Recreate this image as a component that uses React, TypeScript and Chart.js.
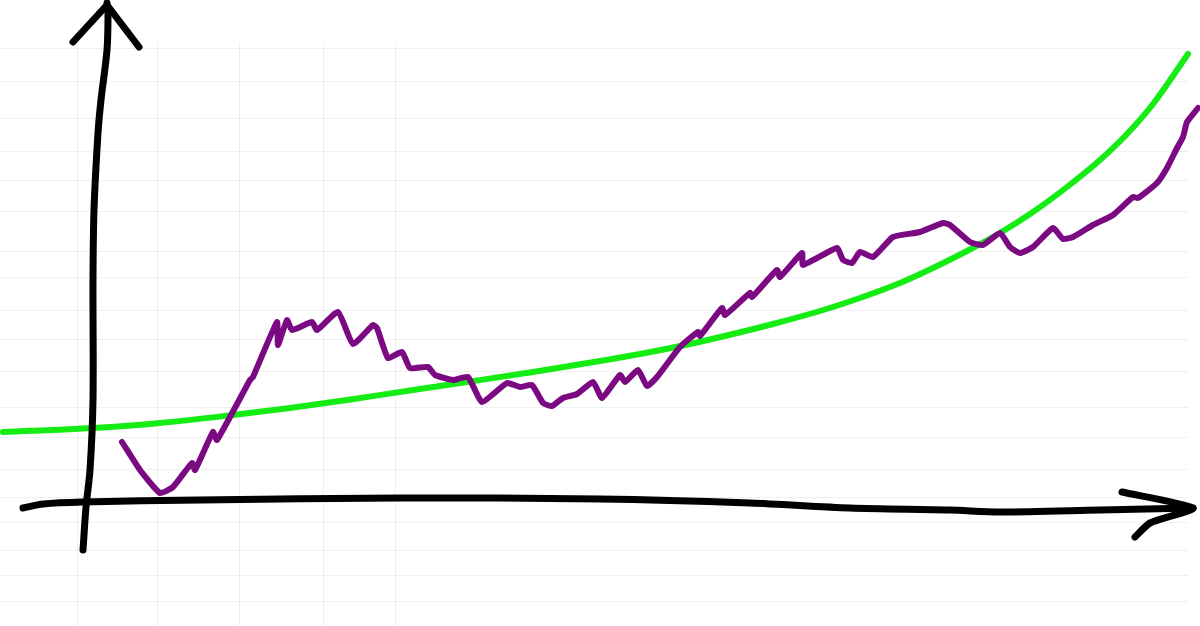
import React, { useEffect, useRef } from "react";
import { Chart, registerables } from "chart.js";

Chart.register(...registerables);

// Faint grid-paper lines (positions along each axis)
const gridX = [77, 157, 239, 323, 395];
const gridY = [577, 544, 508, 475, 446, 414, 375, 349, 316, 287, 255, 218, 189, 157, 129, 104, 76, 51, 25];

// Hand-drawn vertical axis (with arrow head)
const yAxisX = [83, 86, 90, 93, 93, 94, 98, 101, 107, 108, 107];
const yAxisV = [76, 119, 156, 226, 346, 416, 493, 526, 576, 613, 623];
const yArrowX = [73, 107, 139];
const yArrowV = [584, 621, 579];

// Hand-drawn horizontal axis (with arrow head)
const xAxisX = [23, 43, 83, 200, 400, 600, 750, 850, 950, 1000, 1100, 1193];
const xAxisV = [118, 122, 124, 126, 128, 127, 123, 118, 116, 114, 116, 118];
const xArrowX = [1122, 1193, 1150, 1135];
const xArrowV = [134, 118, 103, 89];

// Green smooth (exponential-like) trend
const greenX = [3, 93, 160, 233, 290, 347, 413, 467, 533, 600, 640, 690, 733, 773, 820, 857, 900, 933, 967, 1000, 1033, 1067, 1100, 1127, 1153, 1188];
const greenV = [194, 198, 203, 211, 218, 226, 236, 244, 254, 265, 272, 282, 292, 302, 315, 327, 343, 358, 375, 393, 414, 439, 466, 492, 522, 572];

// Purple noisy series
const purpleX = [122, 140, 160, 173, 192, 195, 213, 217, 250, 253, 277, 278, 287, 292, 312, 317, 338, 353, 373, 377, 388, 402, 410, 428, 435, 453, 468, 482, 507, 520, 532, 543, 552, 563, 577, 593, 602, 620, 625, 638, 647, 657, 680, 698, 700, 722, 725, 750, 752, 777, 780, 802, 803, 837, 843, 852, 860, 873, 893, 920, 943, 950, 970, 983, 1000, 1010, 1020, 1033, 1053, 1063, 1073, 1093, 1113, 1133, 1138, 1157, 1167, 1177, 1183, 1187, 1198];
const purpleV = [184, 156, 133, 139, 163, 156, 194, 186, 246, 249, 304, 281, 306, 296, 304, 296, 314, 282, 301, 298, 268, 274, 258, 259, 251, 246, 249, 224, 243, 239, 241, 223, 220, 228, 232, 244, 228, 251, 244, 256, 240, 249, 279, 294, 290, 318, 311, 333, 329, 356, 349, 373, 361, 378, 366, 363, 374, 369, 389, 394, 403, 401, 384, 381, 393, 379, 373, 379, 398, 387, 389, 401, 411, 429, 428, 443, 458, 478, 489, 504, 518];

const pts = (xs: number[], vs: number[]) => xs.map((x, i) => ({ x, y: vs[i] }));

export default function App() {
  const ref = useRef<HTMLCanvasElement | null>(null);

  useEffect(() => {
    if (!ref.current) return;
    const line = (data: { x: number; y: number }[], color: string, width: number, tension: number, order: number, extra: any = {}) => ({
      data,
      borderColor: color,
      backgroundColor: color,
      borderWidth: width,
      tension,
      order,
      pointRadius: 0,
      borderCapStyle: "round" as const,
      borderJoinStyle: "round" as const,
      clip: false as const,
      fill: false,
      ...extra,
    });
    const chart = new Chart(ref.current, {
      type: "line",
      data: {
        datasets: [
          line(pts(yAxisX, yAxisV), "#000000", 7, 0.3, 0),
          line(pts(yArrowX, yArrowV), "#000000", 7, 0, 0),
          line(pts(xAxisX, xAxisV), "#000000", 7, 0.3, 0),
          line(pts(xArrowX, xArrowV), "#000000", 7, 0.2, 0),
          line(pts(purpleX, purpleV), "#7b0a82", 6, 0.15, 1),
          line(pts(greenX, greenV), "#14ec14", 6, 0.4, 2, { cubicInterpolationMode: "monotone" }),
        ] as any,
      },
      options: {
        animation: false,
        responsive: false,
        maintainAspectRatio: false,
        layout: { padding: { top: 43, right: 12, left: 0, bottom: 0 } },
        elements: { line: { capBezierPoints: false } },
        plugins: { legend: { display: false }, tooltip: { enabled: false } },
        events: [],
        scales: {
          x: {
            type: "linear",
            min: 0,
            max: 1188,
            border: { display: false },
            ticks: { display: false },
            grid: { color: "rgba(0,0,0,0.06)", lineWidth: 1, drawTicks: false },
            afterBuildTicks: (scale: any) => {
              scale.ticks = gridX.map((v) => ({ value: v }));
            },
          },
          y: {
            type: "linear",
            min: 0,
            max: 583,
            border: { display: false },
            ticks: { display: false },
            grid: { color: "rgba(0,0,0,0.06)", lineWidth: 1, drawTicks: false },
            afterBuildTicks: (scale: any) => {
              scale.ticks = gridY.map((v) => ({ value: v }));
            },
          },
        },
      } as any,
    });
    return () => chart.destroy();
  }, []);

  return (
    <div style={{ position: "fixed", left: 0, top: 0, width: 1200, height: 626, background: "#ffffff" }}>
      <canvas ref={ref} width={1200} height={626} style={{ display: "block", width: 1200, height: 626 }} />
    </div>
  );
}
